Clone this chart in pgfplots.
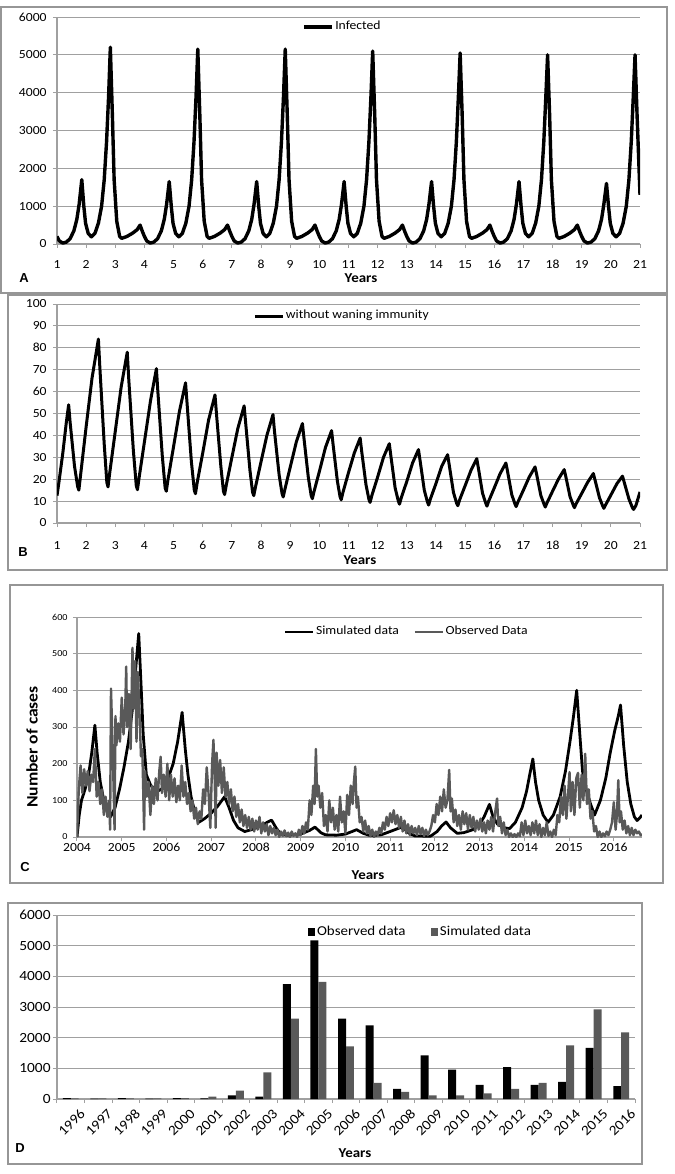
\documentclass[border=0pt]{standalone}
\usepackage{fontspec}
\setmainfont{Carlito}[FakeStretch=1.1]
\newfontfamily\letterfont{Liberation Sans}
\usepackage{pgfplots}
\pgfplotsset{compat=1.18}

\definecolor{obsgray}{RGB}{89,89,89}
\definecolor{gridgray}{RGB}{160,160,160}
\definecolor{framegray}{RGB}{150,150,150}
\newcommand\fs[1]{\fontsize{#1}{#1}\selectfont}

\pgfplotsset{
  panel/.style={
    scale only axis, anchor=south west,
    axis lines*=left,
    axis line style={draw=gridgray, line width=0.6pt},
    ymajorgrids, grid style={draw=gridgray, line width=0.5pt},
    tick align=outside, major tick length=2pt,
    tick style={draw=gridgray, line width=0.5pt},
    tick label style={font=\fs{6.2}},
    /pgf/number format/assume math mode=true,
    /pgf/number format/1000 sep={},
    scaled ticks=false,
    yticklabel style={inner sep=0pt, xshift=-3pt},
    xticklabel style={inner sep=0pt},
    legend style={draw=none, fill=none, inner sep=0pt, font=\fs{6.2},
      nodes={inner sep=0.8pt}},
    legend image code/.code={\draw[##1] (0pt,0pt) -- (14pt,0pt);},
    legend cell align=left,
  },
  barimg/.style={
    legend image code/.code={\fill[##1] (0pt,-1.8pt) rectangle (3.6pt,1.8pt);}
  }
}

\begin{document}
\begin{tikzpicture}
\useasboundingbox (0,0) rectangle (337.5pt,-587pt);

% frames
\draw[framegray, line width=0.6pt] (0.5pt,-3.5pt) rectangle (333.5pt,-146.5pt);
\draw[framegray, line width=0.6pt] (4pt,-147.5pt) rectangle (333.5pt,-285pt);
\draw[framegray, line width=0.6pt] (5pt,-292.5pt) rectangle (331.5pt,-441.5pt);
\draw[framegray, line width=0.6pt] (4pt,-451.5pt) rectangle (321pt,-582pt);

% A
\begin{axis}[panel, at={(28.5pt,-122pt)}, width=291.5pt, height=113.5pt,
  xmin=1, xmax=21, ymin=0, ymax=6000,
  xtick={1,...,21}, ytick={0,1000,...,6000},
  xticklabel style={yshift=-6pt},
  legend style={at={(0.42,0.956)}, anchor=west}]
\addplot[black, line width=1.7pt, line join=round] table {
x y
1.00 200
1.08 80
1.20 25
1.32 50
1.45 140
1.58 350
1.68 650
1.76 1050
1.85 1700
1.92 1000
1.98 550
2.07 280
2.18 190
2.30 280
2.42 550
2.53 1000
2.62 1700
2.70 2700
2.77 3900
2.83 5200
2.90 3400
2.96 1700
3.05 600
3.15 200
3.22 150
3.40 200
3.60 290
3.75 380
3.85 500
3.93 330
4.00 200
4.08 80
4.20 25
4.32 50
4.45 140
4.58 350
4.68 650
4.76 1050
4.85 1650
4.92 1000
4.98 550
5.07 280
5.18 190
5.30 280
5.42 550
5.53 1000
5.62 1700
5.70 2700
5.77 3900
5.83 5150
5.90 3400
5.96 1700
6.05 600
6.15 200
6.22 150
6.40 200
6.60 290
6.75 380
6.85 500
6.93 330
7.00 200
7.08 80
7.20 25
7.32 50
7.45 140
7.58 350
7.68 650
7.76 1050
7.85 1650
7.92 1000
7.98 550
8.07 280
8.18 190
8.30 280
8.42 550
8.53 1000
8.62 1700
8.70 2700
8.77 3900
8.83 5150
8.90 3400
8.96 1700
9.05 600
9.15 200
9.22 150
9.40 200
9.60 290
9.75 380
9.85 500
9.93 330
10.00 200
10.08 80
10.20 25
10.32 50
10.45 140
10.58 350
10.68 650
10.76 1050
10.85 1650
10.92 1000
10.98 550
11.07 280
11.18 190
11.30 280
11.42 550
11.53 1000
11.62 1700
11.70 2700
11.77 3900
11.83 5100
11.90 3400
11.96 1700
12.05 600
12.15 200
12.22 150
12.40 200
12.60 290
12.75 380
12.85 500
12.93 330
13.00 200
13.08 80
13.20 25
13.32 50
13.45 140
13.58 350
13.68 650
13.76 1050
13.85 1650
13.92 1000
13.98 550
14.07 280
14.18 190
14.30 280
14.42 550
14.53 1000
14.62 1700
14.70 2700
14.77 3900
14.83 5050
14.90 3400
14.96 1700
15.05 600
15.15 200
15.22 150
15.40 200
15.60 290
15.75 380
15.85 500
15.93 330
16.00 200
16.08 80
16.20 25
16.32 50
16.45 140
16.58 350
16.68 650
16.76 1050
16.85 1650
16.92 1000
16.98 550
17.07 280
17.18 190
17.30 280
17.42 550
17.53 1000
17.62 1700
17.70 2700
17.77 3900
17.83 5000
17.90 3400
17.96 1700
18.05 600
18.15 200
18.22 150
18.40 200
18.60 290
18.75 380
18.85 500
18.93 330
19.00 200
19.08 80
19.20 25
19.32 50
19.45 140
19.58 350
19.68 650
19.76 1050
19.85 1600
19.92 1000
19.98 550
20.07 280
20.18 190
20.30 280
20.42 550
20.53 1000
20.62 1700
20.70 2700
20.77 3900
20.83 5000
20.90 3400
21.00 1300
};
\addlegendentry{Infected}
\end{axis}

% B
\begin{axis}[panel, at={(28.5pt,-261.5pt)}, width=291.5pt, height=109.5pt,
  xmin=1, xmax=21, ymin=0, ymax=100,
  xtick={1,...,21}, ytick={0,10,...,100},
  xticklabel style={yshift=-7pt},
  legend style={at={(0.336,0.945)}, anchor=west}]
\addplot[black, line width=1.5pt, line join=round] table {
x y
1.00 12.5
1.06 18
1.20 32
1.32 46
1.40 54
1.45 46
1.60 26
1.71 16.5
1.75 15
1.81 22
2.00 44
2.20 66
2.42 84
2.47 71
2.62 36
2.71 18.5
2.75 16.5
2.81 23
3.00 42
3.20 62
3.41 78
3.46 66
3.62 33
3.72 17
3.76 15.2
3.82 21
4.01 38
4.21 56
4.41 70.5
4.46 60
4.61 31
4.71 16
4.75 14.5
4.81 20
5.00 35
5.20 51
5.41 64
5.46 55
5.61 28
5.71 15
5.75 13.4
5.81 18.5
6.00 32
6.20 47
6.42 58.5
6.47 50
6.62 26
6.71 14.5
6.75 13
6.81 17.5
7.00 30
7.20 43
7.42 53.5
7.47 46
7.62 24
7.71 14
7.75 12.5
7.81 16.5
8.00 28
8.20 40
8.41 49.5
8.46 42
8.62 22
8.72 13.5
8.76 11.9
8.82 15.5
9.01 26
9.21 37
9.42 45.4
9.47 39
9.62 21
9.72 12.5
9.76 11.1
9.82 14.5
10.01 24
10.21 34.5
10.42 42.2
10.47 36
10.62 19
10.71 12
10.75 10.6
10.81 14
11.00 23
11.20 32
11.40 38.8
11.45 33
11.60 17.5
11.70 10.8
11.74 9.4
11.80 12.5
12.00 21
12.20 30
12.40 36.2
12.45 31
12.60 16
12.71 10
12.75 8.6
12.81 11.5
13.00 19
13.20 27.5
13.40 33.5
13.45 29
13.60 15
13.71 9.5
13.75 8.2
13.81 11
14.00 18
14.20 26
14.40 31.2
14.45 27
14.60 14
14.71 9
14.75 7.9
14.81 10.5
15.00 17
15.20 24
15.40 29.4
15.45 25.5
15.60 13.5
15.71 9
15.75 7.7
15.81 10
16.00 16
16.20 22.5
16.40 27.4
16.45 24
16.60 13
16.71 8.7
16.75 7.5
16.81 9.5
17.00 15
17.20 21
17.40 25.6
17.45 22.5
17.60 12.5
17.71 8.5
17.75 7.3
17.81 9.2
18.00 14.5
18.20 20
18.40 24.4
18.45 21.5
18.60 12
18.71 8.2
18.75 7.0
18.81 8.8
19.00 13.5
19.20 18.5
19.40 22.6
19.45 20
19.61 11.5
19.72 7.8
19.76 6.7
19.82 8.3
20.01 13
20.21 18
20.40 21.4
20.45 19
20.62 11
20.74 7
20.78 6.2
20.86 8
21.00 14.2
};
\addlegendentry{without waning immunity}
\end{axis}

% C
\begin{axis}[panel, at={(38.5pt,-418.5pt)}, width=282.5pt, height=110pt,
  xmin=2004, xmax=2016.63, ymin=0, ymax=600,
  xtick={2004,...,2016}, ytick={0,100,...,600},
  yticklabel style={font=\fs{4.6}, xshift=0.5pt},
  xticklabel style={yshift=-1pt},
  legend columns=2,
  legend style={at={(0.365,0.932)}, anchor=west,
    /tikz/every even column/.append style={column sep=6.5pt}}]
\addplot[black, line width=1.4pt, line join=round] coordinates {
(2004.00,0) (2004.05,60) (2004.10,100) (2004.18,130) (2004.26,170)
(2004.33,230) (2004.40,305) (2004.45,230) (2004.52,150) (2004.60,100)
(2004.68,70) (2004.75,55) (2004.85,80) (2004.95,130) (2005.05,190)
(2005.15,260) (2005.25,360) (2005.32,470) (2005.38,555) (2005.43,420)
(2005.48,280) (2005.55,170) (2005.65,140) (2005.80,125) (2005.95,135)
(2006.05,165) (2006.15,200) (2006.25,260) (2006.35,340) (2006.42,240)
(2006.48,170) (2006.55,110) (2006.65,60) (2006.72,40) (2006.85,50)
(2007.00,65) (2007.15,85) (2007.30,110) (2007.40,80) (2007.50,45)
(2007.60,25) (2007.75,15) (2007.90,20) (2008.10,30) (2008.25,40)
(2008.35,46) (2008.45,25) (2008.55,8) (2008.70,5) (2009.00,8)
(2009.20,18) (2009.32,27) (2009.45,12) (2009.55,6) (2009.80,5)
(2010.00,8) (2010.15,15) (2010.25,20) (2010.40,10) (2010.55,4)
(2010.80,6) (2011.00,15) (2011.15,22) (2011.28,28) (2011.40,12)
(2011.55,3) (2011.90,2) (2012.05,15) (2012.15,30) (2012.25,41)
(2012.35,25) (2012.50,10) (2012.65,12) (2012.85,20) (2013.00,35)
(2013.10,55) (2013.22,89) (2013.30,55) (2013.40,35) (2013.55,25)
(2013.67,23) (2013.80,40) (2013.95,80) (2014.05,125) (2014.12,170)
(2014.19,213) (2014.25,150) (2014.32,100) (2014.42,60) (2014.53,40)
(2014.65,60) (2014.80,110) (2014.92,180) (2015.02,260) (2015.10,330)
(2015.17,400) (2015.24,280) (2015.30,180) (2015.38,130) (2015.48,90)
(2015.57,60) (2015.70,100) (2015.82,160) (2015.92,230) (2016.02,290)
(2016.10,330) (2016.15,360) (2016.22,250) (2016.30,150) (2016.38,90)
(2016.46,55) (2016.52,45) (2016.58,52) (2016.63,60)
};
\addlegendentry{Simulated data}
\addplot[obsgray, line width=1.2pt, line join=round] coordinates {
(2004.00,0) (2004.04,130) (2004.08,195) (2004.12,120) (2004.16,185)
(2004.20,140) (2004.24,180) (2004.28,125) (2004.32,170) (2004.36,150)
(2004.40,240) (2004.44,110) (2004.48,150) (2004.52,90) (2004.56,130)
(2004.60,60) (2004.64,110) (2004.68,55) (2004.72,100) (2004.74,20)
(2004.76,405) (2004.80,230) (2004.84,20) (2004.86,330) (2004.88,250)
(2004.92,310) (2004.96,260) (2005.00,380) (2005.04,280) (2005.08,360)
(2005.10,465) (2005.12,300) (2005.16,390) (2005.20,240) (2005.24,516)
(2005.27,350) (2005.30,480) (2005.33,260) (2005.36,450) (2005.40,330)
(2005.43,220) (2005.46,240) (2005.50,20) (2005.52,180) (2005.56,110)
(2005.60,150) (2005.64,60) (2005.68,140) (2005.72,90) (2005.76,160)
(2005.80,100) (2005.84,180) (2005.87,219) (2005.90,120) (2005.94,170)
(2005.98,110) (2006.02,200) (2006.06,100) (2006.10,170) (2006.14,110)
(2006.18,160) (2006.22,95) (2006.26,140) (2006.30,100) (2006.34,195)
(2006.38,110) (2006.42,150) (2006.46,90) (2006.50,120) (2006.54,70)
(2006.58,100) (2006.62,50) (2006.66,80) (2006.70,35) (2006.74,70)
(2006.78,50) (2006.82,130) (2006.86,90) (2006.90,190) (2006.94,120)
(2006.98,25) (2007.02,200) (2007.05,265) (2007.08,150) (2007.10,25)
(2007.12,230) (2007.16,140) (2007.20,210) (2007.24,120) (2007.28,190)
(2007.32,110) (2007.36,150) (2007.40,90) (2007.44,130) (2007.48,70)
(2007.52,110) (2007.56,55) (2007.60,90) (2007.64,40) (2007.68,75)
(2007.72,30) (2007.76,60) (2007.80,25) (2007.84,55) (2007.88,20)
(2007.92,50) (2007.96,15) (2008.00,45) (2008.04,20) (2008.08,55)
(2008.12,10) (2008.16,40) (2008.20,15) (2008.24,35) (2008.28,5)
(2008.32,30) (2008.36,10) (2008.40,25) (2008.44,5) (2008.48,20)
(2008.52,0) (2008.56,15) (2008.60,3) (2008.64,18) (2008.68,2)
(2008.72,12) (2008.76,0) (2008.80,15) (2008.84,3) (2008.88,10)
(2008.92,0) (2008.96,20) (2009.00,5) (2009.04,30) (2009.08,10)
(2009.12,40) (2009.16,20) (2009.20,100) (2009.24,60) (2009.28,140)
(2009.31,90) (2009.34,240) (2009.37,110) (2009.40,140) (2009.44,80)
(2009.48,120) (2009.52,30) (2009.56,60) (2009.60,15) (2009.64,100)
(2009.68,40) (2009.72,80) (2009.76,20) (2009.80,60) (2009.84,15)
(2009.88,110) (2009.92,40) (2009.96,70) (2010.00,10) (2010.04,115)
(2010.08,60) (2010.12,140) (2010.16,90) (2010.19,150) (2010.22,192)
(2010.25,80) (2010.28,110) (2010.32,40) (2010.36,55) (2010.40,15)
(2010.44,45) (2010.48,10) (2010.52,30) (2010.56,2) (2010.60,20)
(2010.64,0) (2010.68,15) (2010.72,5) (2010.76,25) (2010.80,10)
(2010.84,40) (2010.88,20) (2010.92,55) (2010.96,30) (2011.00,65)
(2011.04,40) (2011.08,73) (2011.12,35) (2011.16,60) (2011.20,25)
(2011.24,55) (2011.28,15) (2011.32,45) (2011.36,10) (2011.40,35)
(2011.44,5) (2011.48,30) (2011.52,10) (2011.56,25) (2011.60,5)
(2011.64,30) (2011.68,8) (2011.72,25) (2011.76,3) (2011.80,20)
(2011.84,5) (2011.88,15) (2011.92,30) (2011.96,60) (2012.00,40)
(2012.04,90) (2012.08,60) (2012.12,110) (2012.16,70) (2012.20,130)
(2012.24,80) (2012.28,100) (2012.32,183) (2012.35,70) (2012.38,105)
(2012.42,40) (2012.46,75) (2012.50,30) (2012.54,60) (2012.58,20)
(2012.62,70) (2012.66,35) (2012.70,65) (2012.74,20) (2012.78,60)
(2012.82,25) (2012.86,55) (2012.90,15) (2012.94,45) (2012.98,20)
(2013.02,50) (2013.06,15) (2013.10,40) (2013.14,10) (2013.18,45)
(2013.22,20) (2013.26,55) (2013.30,15) (2013.34,60) (2013.39,105)
(2013.42,30) (2013.46,55) (2013.50,10) (2013.54,40) (2013.58,5)
(2013.62,20) (2013.66,0) (2013.70,10) (2013.74,0) (2013.78,8)
(2013.82,0) (2013.86,10) (2013.90,2) (2013.94,40) (2013.98,5)
(2014.02,45) (2014.06,10) (2014.10,30) (2014.14,5) (2014.18,40)
(2014.22,10) (2014.26,45) (2014.30,5) (2014.34,35) (2014.38,0)
(2014.42,25) (2014.46,5) (2014.50,40) (2014.54,3) (2014.58,15)
(2014.62,0) (2014.66,20) (2014.70,5) (2014.74,60) (2014.78,40)
(2014.82,110) (2014.86,60) (2014.90,140) (2014.94,50) (2014.98,120)
(2015.01,177) (2015.04,70) (2015.08,150) (2015.12,60) (2015.16,160)
(2015.20,175) (2015.24,80) (2015.28,170) (2015.32,100) (2015.36,227)
(2015.40,90) (2015.44,130) (2015.48,50) (2015.52,70) (2015.56,15)
(2015.60,30) (2015.64,0) (2015.68,15) (2015.72,0) (2015.76,10)
(2015.80,2) (2015.84,15) (2015.88,5) (2015.92,20) (2015.96,40)
(2016.00,95) (2016.04,20) (2016.07,60) (2016.10,155) (2016.13,40)
(2016.16,70) (2016.20,20) (2016.24,45) (2016.28,10) (2016.32,30)
(2016.36,5) (2016.40,25) (2016.44,5) (2016.48,20) (2016.52,10)
(2016.56,15) (2016.60,5) (2016.63,8)
};
\addlegendentry{Observed Data}
\end{axis}

% D
\begin{axis}[panel, at={(28.5pt,-549.5pt)}, width=289pt, height=92pt,
  ybar=0pt, bar width=0.29,
  xmin=-0.5, xmax=20.5, ymin=0, ymax=6000,
  major tick length=0pt,
  ytick={0,1000,...,6000}, yticklabel style={font=\fs{7}},
  xtick={0,1,...,20},
  xticklabels={1996,1997,1998,1999,2000,2001,2002,2003,2004,2005,2006,2007,2008,2009,2010,2011,2012,2013,2014,2015,2016},
  xticklabel style={rotate=45, anchor=north east, font=\fs{7}, yshift=-6pt},
  extra x ticks={-0.5,0.5,...,20.5}, extra x tick labels={},
  extra y ticks={0,1000,...,6000}, extra y tick labels={},
  extra tick style={major tick length=2pt},
  legend columns=2,
  legend style={at={(0.434,0.908)}, anchor=west, font=\fs{6.8},
    /tikz/every even column/.append style={column sep=12pt}}]
\addplot[fill=black, draw=none, barimg] coordinates {
(0,30) (1,10) (2,30) (3,10) (4,25) (5,20) (6,120) (7,80) (8,3750) (9,5170)
(10,2620) (11,2400) (12,330) (13,1420) (14,960) (15,460) (16,1040) (17,460)
(18,560) (19,1670) (20,420)
};
\addlegendentry{Observed data}
\addplot[fill=obsgray, draw=none, barimg] coordinates {
(0,20) (1,20) (2,20) (3,20) (4,30) (5,80) (6,270) (7,870) (8,2620) (9,3820)
(10,1720) (11,530) (12,230) (13,120) (14,120) (15,180) (16,330) (17,530)
(18,1750) (19,2920) (20,2170)
};
\addlegendentry{Simulated data}
\end{axis}

% panel letters and axis titles
\node[font=\letterfont\bfseries\fs{6.5}] at (12pt,-139pt) {A};
\node[font=\letterfont\bfseries\fs{6.5}] at (11.5pt,-276pt) {B};
\node[font=\letterfont\bfseries\fs{6.5}] at (12.5pt,-433.5pt) {C};
\node[font=\letterfont\bfseries\fs{6.5}] at (10pt,-574pt) {D};
\node[font=\bfseries\fs{6.8}] at (180.5pt,-139pt) {Years};
\node[font=\bfseries\fs{6.8}] at (180pt,-280pt) {Years};
\node[font=\bfseries\fs{6.8}] at (184pt,-437.5pt) {Years};
\node[font=\bfseries\fs{6.8}] at (177.5pt,-576.5pt) {Years};
\node[font=\bfseries\fs{8}, rotate=90] at (16pt,-373.5pt) {Number of cases};
\end{tikzpicture}
\end{document}
